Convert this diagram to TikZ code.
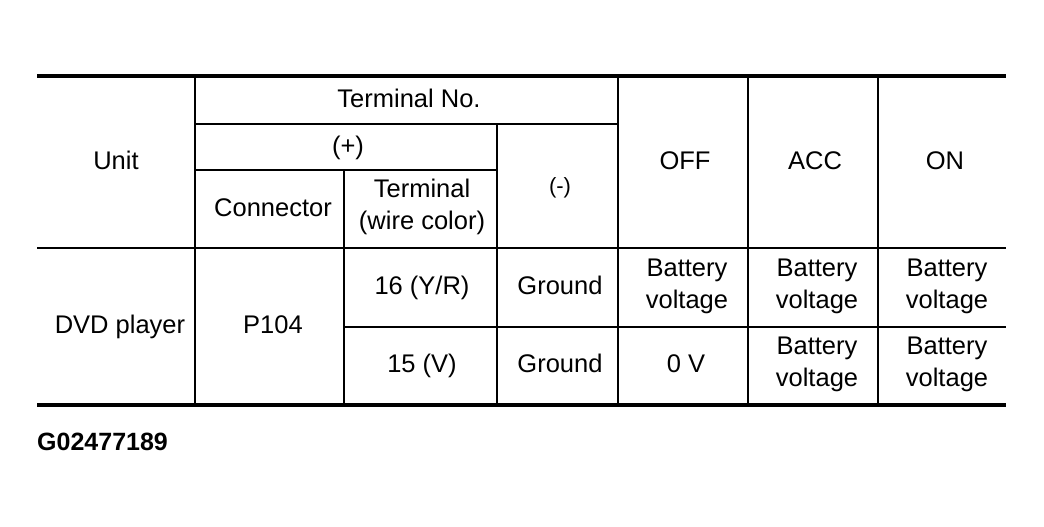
\documentclass[tikz,border=0pt]{standalone}
\usepackage{fontspec}
\setmainfont{Liberation Sans}
\usetikzlibrary{positioning}

\begin{document}
\begin{tikzpicture}[x=1pt,y=-1pt]
    \tikzstyle{cell}=[font=\fontsize{25.5}{32}\selectfont, align=center, inner sep=0pt]
    \tikzstyle{line cell}=[cell, anchor=base]
    \tikzstyle{small cell}=[line cell, font=\fontsize{22}{26}\selectfont]
    \tikzstyle{code}=[font=\fontsize{25}{30}\selectfont\bfseries, anchor=west, inner sep=0pt]
    \tikzstyle{heavy rule}=[line width=4pt]
    \tikzstyle{rule}=[line width=2pt]
    \tikzstyle{light rule}=[line width=1.3pt]

    \useasboundingbox (0,0) rectangle (1044,527);

    % outer rules
    \draw[heavy rule] (37,76) -- (1006,76);
    \draw[heavy rule] (37,405) -- (1006,405);
    \draw[rule] (37,248) -- (1006,248);

    % header rules
    \draw[rule] (195,124) -- (618,124);
    \draw[rule] (195,170) -- (497,170);
    \draw[light rule] (344,327) -- (1006,327);

    % columns
    \draw[rule] (195,76) -- (195,405);
    \draw[rule] (344,170) -- (344,405);
    \draw[light rule] (497,124) -- (497,405);
    \draw[rule] (618,76) -- (618,405);
    \draw[rule] (748,76) -- (748,405);
    \draw[rule] (878,76) -- (878,405);

    % header
    \node[line cell] (unit) at (116,169) {Unit};
    \node[line cell] (termno) at (409,107) {Terminal No.};
    \node[line cell] (plus) at (348,154) {(+)};
    \node[small cell] (minus) at (560,193) {(-)};
    \node[line cell] (connector) at (273,216) {Connector};
    \node[cell] (terminal) at (422,207) {Terminal\\(wire color)};
    \node[line cell] (off) at (685,169) {OFF};
    \node[line cell] (acc) at (815,169) {ACC};
    \node[line cell] (on) at (945,169) {ON};

    % body
    \node[line cell] (dvd) at (120,333) {DVD player};
    \node[line cell] (p104) at (273,333) {P104};
    \node[line cell] (t16) at (422,294) {16 (Y/R)};
    \node[line cell] (gnd16) at (560,294) {Ground};
    \node[cell] (off16) at (687,286) {Battery\\voltage};
    \node[cell] (acc16) at (817,286) {Battery\\voltage};
    \node[cell] (on16) at (947,286) {Battery\\voltage};
    \node[line cell] (t15) at (422,372) {15 (V)};
    \node[line cell] (gnd15) at (560,372) {Ground};
    \node[line cell] (off15) at (686,372) {0 V};
    \node[cell] (acc15) at (817,364) {Battery\\voltage};
    \node[cell] (on15) at (947,364) {Battery\\voltage};

    \node[code] (figno) at (37,442) {G02477189};
\end{tikzpicture}
\end{document}
